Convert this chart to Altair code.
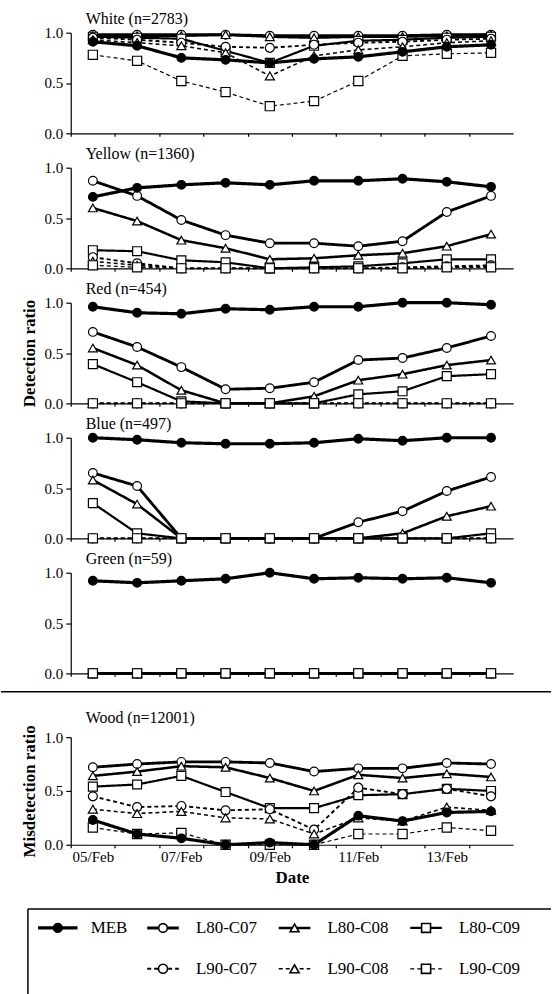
import altair as alt
import pandas as pd

DATES = ["05/Feb", "06/Feb", "07/Feb", "08/Feb", "09/Feb",
         "10/Feb", "11/Feb", "12/Feb", "13/Feb", "14/Feb"]
SERIES = ["MEB", "L80-C07", "L80-C08", "L80-C09", "L90-C07", "L90-C08", "L90-C09"]

WHITE = {
    "MEB":     [0.91, 0.87, 0.75, 0.73, 0.70, 0.74, 0.76, 0.81, 0.86, 0.88],
    "L80-C07": [0.98, 0.98, 0.98, 0.98, 0.97, 0.97, 0.97, 0.97, 0.98, 0.98],
    "L80-C08": [0.97, 0.97, 0.97, 0.98, 0.96, 0.95, 0.96, 0.96, 0.97, 0.98],
    "L80-C09": [0.96, 0.95, 0.94, 0.82, 0.70, 0.87, 0.92, 0.93, 0.95, 0.96],
    "L90-C07": [0.95, 0.93, 0.90, 0.86, 0.85, 0.88, 0.90, 0.91, 0.93, 0.94],
    "L90-C08": [0.93, 0.90, 0.87, 0.80, 0.57, 0.77, 0.83, 0.86, 0.90, 0.92],
    "L90-C09": [0.78, 0.72, 0.52, 0.41, 0.27, 0.32, 0.52, 0.77, 0.79, 0.80],
}
YELLOW = {
    "MEB":     [0.71, 0.80, 0.83, 0.85, 0.83, 0.87, 0.87, 0.89, 0.86, 0.81],
    "L80-C07": [0.87, 0.72, 0.48, 0.33, 0.25, 0.25, 0.22, 0.27, 0.56, 0.72],
    "L80-C08": [0.60, 0.47, 0.28, 0.20, 0.09, 0.10, 0.13, 0.15, 0.22, 0.34],
    "L80-C09": [0.18, 0.17, 0.08, 0.06, 0.00, 0.01, 0.02, 0.05, 0.09, 0.09],
    "L90-C07": [0.11, 0.05, 0.00, 0.00, 0.00, 0.00, 0.00, 0.01, 0.02, 0.03],
    "L90-C08": [0.07, 0.03, 0.00, 0.00, 0.00, 0.00, 0.00, 0.00, 0.01, 0.02],
    "L90-C09": [0.03, 0.01, 0.00, 0.00, 0.00, 0.00, 0.00, 0.00, 0.01, 0.01],
}
RED = {
    "MEB":     [0.96, 0.90, 0.89, 0.94, 0.93, 0.96, 0.96, 1.00, 1.00, 0.98],
    "L80-C07": [0.71, 0.56, 0.36, 0.14, 0.15, 0.21, 0.43, 0.45, 0.55, 0.67],
    "L80-C08": [0.55, 0.38, 0.13, 0.00, 0.00, 0.07, 0.23, 0.29, 0.38, 0.43],
    "L80-C09": [0.39, 0.21, 0.02, 0.00, 0.00, 0.00, 0.09, 0.12, 0.27, 0.29],
    "L90-C07": [0.00] * 10,
    "L90-C08": [0.00] * 10,
    "L90-C09": [0.00] * 10,
}
BLUE = {
    "MEB":     [1.00, 0.98, 0.95, 0.94, 0.94, 0.95, 0.99, 0.97, 1.00, 1.00],
    "L80-C07": [0.65, 0.52, 0.00, 0.00, 0.00, 0.00, 0.16, 0.27, 0.47, 0.61],
    "L80-C08": [0.58, 0.34, 0.00, 0.00, 0.00, 0.00, 0.00, 0.05, 0.22, 0.32],
    "L80-C09": [0.35, 0.05, 0.00, 0.00, 0.00, 0.00, 0.00, 0.00, 0.00, 0.05],
    "L90-C07": [0.00] * 10,
    "L90-C08": [0.00] * 10,
    "L90-C09": [0.00] * 10,
}
GREEN = {
    "MEB":     [0.92, 0.90, 0.92, 0.94, 1.00, 0.94, 0.95, 0.94, 0.95, 0.90],
    "L80-C07": [0.00] * 10,
    "L80-C08": [0.00] * 10,
    "L80-C09": [0.00] * 10,
    "L90-C07": [0.00] * 10,
    "L90-C08": [0.00] * 10,
    "L90-C09": [0.00] * 10,
}
WOOD = {
    "MEB":     [0.23, 0.10, 0.06, 0.00, 0.02, 0.00, 0.27, 0.22, 0.30, 0.31],
    "L80-C07": [0.72, 0.75, 0.77, 0.77, 0.76, 0.68, 0.71, 0.71, 0.76, 0.75],
    "L80-C08": [0.64, 0.68, 0.73, 0.72, 0.62, 0.50, 0.65, 0.62, 0.66, 0.63],
    "L80-C09": [0.54, 0.56, 0.64, 0.49, 0.34, 0.34, 0.46, 0.47, 0.52, 0.50],
    "L90-C07": [0.45, 0.35, 0.36, 0.32, 0.33, 0.14, 0.53, 0.47, 0.52, 0.45],
    "L90-C08": [0.33, 0.29, 0.31, 0.25, 0.24, 0.10, 0.25, 0.22, 0.35, 0.32],
    "L90-C09": [0.16, 0.10, 0.11, 0.00, 0.00, 0.00, 0.10, 0.10, 0.16, 0.13],
}

PANELS = [
    ("White (n=2783)", WHITE),
    ("Yellow (n=1360)", YELLOW),
    ("Red (n=454)", RED),
    ("Blue (n=497)", BLUE),
    ("Green (n=59)", GREEN),
]
WOOD_TITLE = "Wood (n=12001)"

FONT = "Liberation Serif"
W, H, HW = 444, 101, 108
DAYS = [int(d[:2]) for d in DATES]
XDOM = [DAYS[0] - 0.5, DAYS[-1] + 0.5]
HALF = [d - 0.5 for d in DAYS]          # tick positions between days
DAY_PX = W / (XDOM[1] - XDOM[0])

SHAPES = ["circle", "circle", "triangle-up", "square", "circle", "triangle-up", "square"]
FILLS = ["black"] + ["white"] * 6
SIZES = [75, 85, 65, 45, 85, 65, 45]
WIDTHS = [3.2, 1.2, 1.2, 1.2, 1.1, 1.1, 1.1]
DASHES = [[1, 0]] * 4 + [[4, 3]] * 3

shape_enc = alt.Shape("series:N", scale=alt.Scale(domain=SERIES, range=SHAPES), legend=None)
fill_enc = alt.Fill("series:N", scale=alt.Scale(domain=SERIES, range=FILLS), legend=None)
size_enc = alt.Size("series:N", scale=alt.Scale(domain=SERIES, range=SIZES), legend=None)
width_enc = alt.StrokeWidth("series:N", scale=alt.Scale(domain=SERIES, range=WIDTHS), legend=None)
dash_enc = alt.StrokeDash("series:N", scale=alt.Scale(domain=SERIES, range=DASHES), legend=None)


def to_df(data):
    rows = []
    # draw MEB last so it sits on top
    for s in SERIES[1:] + SERIES[:1]:
        for d, v in zip(DAYS, data[s]):
            rows.append({"day": d, "series": s, "value": v})
    return pd.DataFrame(rows)


# tick at d-0.5, label shifted half a day to the right -> label sits under day d
label_expr = " : ".join(
    f"datum.value == {d - 0.5} ? '{lab}'" for d, lab in zip(DAYS, DATES) if d % 2 == 1
) + " : ''"


def panel(title, data, y_title=None, bottom=False, height=H):
    df = to_df(data)
    if bottom:
        xaxis = alt.Axis(values=HALF, labelExpr=label_expr, labelOffset=DAY_PX / 2,
                         tickSize=3, title="Date", labelFontSize=15, titleFontSize=17,
                         titleFontWeight="bold", labelPadding=2, titlePadding=5,
                         labelFlush=False, labelOverlap=False)
    else:
        xaxis = alt.Axis(values=HALF, labels=False, tickSize=3, title=None)
    yaxis = alt.Axis(values=[0, 0.5, 1], format=".1f", tickSize=5, labelFontSize=15,
                     labelPadding=3, title=y_title, titleFontSize=17,
                     titleFontWeight="bold", titlePadding=6)
    x = alt.X("day:Q", scale=alt.Scale(domain=XDOM, nice=False, zero=False), axis=xaxis)
    y = alt.Y("value:Q", scale=alt.Scale(domain=[0, 1], nice=False), axis=yaxis)
    lines = alt.Chart(df).mark_line(color="black").encode(
        x=x, y=y, detail="series:N", strokeWidth=width_enc, strokeDash=dash_enc
    )
    points = alt.Chart(df).mark_point(
        filled=True, stroke="black", strokeWidth=1.2, opacity=1
    ).encode(x=x, y=y, shape=shape_enc, fill=fill_enc, size=size_enc)
    return alt.layer(lines, points).properties(
        width=W, height=height,
        title=alt.TitleParams(title, anchor="start", frame="group", dx=15, offset=-1,
                              fontSize=16, font=FONT, fontWeight="normal", color="black"),
    )


charts = []
for i, (t, d) in enumerate(PANELS):
    charts.append(panel(t, d, y_title="Detection ratio" if i == 2 else None))

# separator line across the whole figure
sep = alt.Chart(pd.DataFrame({"k": [0]})).mark_rule(color="black", strokeWidth=1.5).encode(
    x=alt.value(-70), x2=alt.value(W + 38), y=alt.value(6)
).properties(width=W, height=19)
charts.append(sep)

charts.append(panel(WOOD_TITLE, WOOD, y_title="Misdetection ratio", bottom=True, height=HW))

# legend built from the series list
leg_rows = []
for s in SERIES:
    if s == "MEB":
        col, row = 0.0, 0
    else:
        k = ["C07", "C08", "C09"].index(s.split("-")[1])
        col, row = 0.8 + k, (0 if s.startswith("L80") else 1)
    half = 0.15 if s == "MEB" else 0.12
    leg_rows.append({"series": s, "col": col, "row": row, "x0": col - half, "x1": col + half})
leg_df = pd.DataFrame(leg_rows)

LH = 106
ROW0 = 38
BOX = 19
lx_scale = alt.Scale(domain=[13 / 132, 13 / 132 + W / 132], nice=False, zero=False)
ly_scale = alt.Scale(domain=[-ROW0 / 41, -ROW0 / 41 + LH / 41], reverse=True, nice=False, zero=False)
lx = alt.X("col:Q", scale=lx_scale, axis=None)
ly = alt.Y("row:Q", scale=ly_scale, axis=None)

leg_lines = alt.Chart(leg_df).mark_rule(color="black").encode(
    x=alt.X("x0:Q", scale=lx_scale, axis=None), x2="x1:Q", y=ly,
    strokeWidth=width_enc, strokeDash=dash_enc
)
leg_pts = alt.Chart(leg_df).mark_point(filled=True, stroke="black", strokeWidth=1.6, opacity=1).encode(
    x=lx, y=ly, shape=shape_enc, fill=fill_enc, size=size_enc
)
leg_txt = alt.Chart(leg_df).mark_text(align="left", baseline="middle", dx=33, fontSize=17,
                                      font=FONT, color="black").encode(
    x=lx, y=ly, text="series:N"
)
box_top = alt.Chart(pd.DataFrame({"k": [0]})).mark_rule(color="black", strokeWidth=1.5).encode(
    x=alt.value(-43), x2=alt.value(W + 38), y=alt.value(BOX)
)
box_left = alt.Chart(pd.DataFrame({"k": [0]})).mark_rule(color="black", strokeWidth=1.5).encode(
    x=alt.value(-43), y=alt.value(BOX), y2=alt.value(LH)
)
legend = alt.layer(box_top, box_left, leg_lines, leg_pts, leg_txt).properties(width=W, height=LH)
charts.append(legend)

chart = alt.vconcat(*charts, spacing=4.5).properties(
    padding={"left": 0, "top": 9, "right": 0, "bottom": 0},
    background="white",
).configure_view(stroke=None).configure_axis(
    grid=False, domainColor="black", tickColor="black", labelColor="black",
    titleColor="black", labelFont=FONT, titleFont=FONT, domainWidth=1.2, tickWidth=1.2
)

chart.save("out.html", embed_options={"renderer": "svg", "actions": False})
